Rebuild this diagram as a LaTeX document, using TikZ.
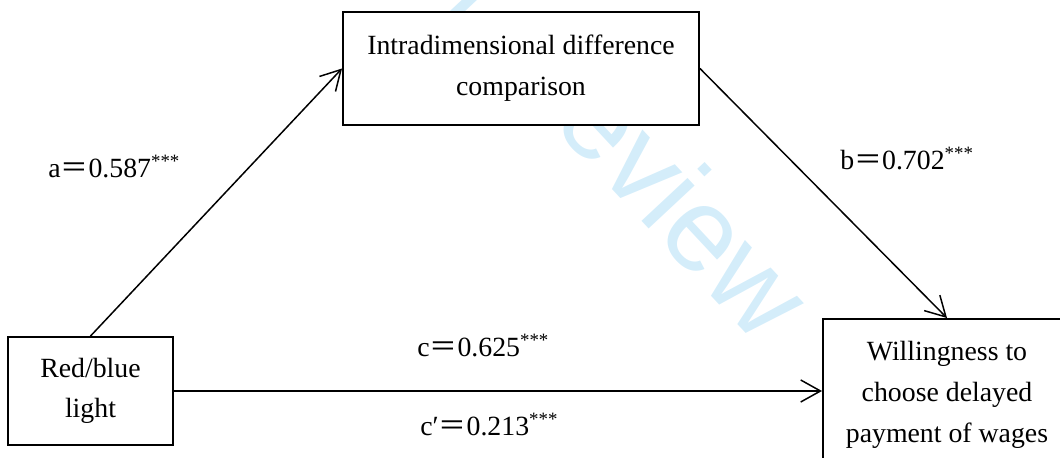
\documentclass[tikz,border=0pt]{standalone}
\usepackage{fontspec}
\setmainfont{Liberation Serif}
\newfontfamily\cjk{Noto Sans CJK SC}
\newfontfamily\wmfont{Liberation Sans}
\usetikzlibrary{arrows.meta}
\definecolor{wmblue}{RGB}{212,237,250}
\newcommand{\eqsign}{{\cjk ＝}}
\newcommand{\stars}{\textsuperscript{\fontsize{9.5}{9.5}\selectfont ***}}

\begin{document}
\begin{tikzpicture}[x=0.0177cm,y=-0.0177cm,
    every node/.style={font=\fontsize{14}{20.5}\selectfont},
    box/.style={draw=black,line width=1pt,fill=white,align=center,inner sep=0pt},
    arr/.style={line width=0.75pt,-{Straight Barb[length=3.5mm,width=3.9mm]}},
    lbl/.style={anchor=base west,inner sep=0pt}]
    \useasboundingbox (0,0) rectangle (1060,458);
    \clip (0,0) rectangle (1060,458);

    \node[wmblue,rotate=-47,anchor=base east,inner sep=0pt,
      font=\wmfont\fontsize{60}{60}\selectfont] (wm) at (759,347) {For Peer Review};

    \node[box,minimum width=2.92cm,minimum height=1.91cm] (light) at (90.5,391)
      {Red/blue\\light};
    \node[box,minimum width=6.30cm,minimum height=2.00cm] (idc) at (521,68.5)
      {Intradimensional difference\\comparison};
    \node[box,minimum width=4.39cm,minimum height=2.69cm] (will) at (947,395)
      {Willingness to\\choose delayed\\payment of wages};

    \draw[arr] (light.north) -- (idc.west);
    \draw[arr] (idc.east) -- (will.north);
    \draw[arr] (light.east) -- (light.east -| will.west);

    \node[lbl] (la) at (48,178) {a\eqsign 0.587\stars};
    \node[lbl] (lb) at (840,170) {b\eqsign 0.702\stars};
    \node[lbl] (lc) at (417,357) {c\eqsign 0.625\stars};
    \node[lbl] (lcp) at (420,436) {c′\eqsign 0.213\stars};
  \end{tikzpicture}
\end{document}
